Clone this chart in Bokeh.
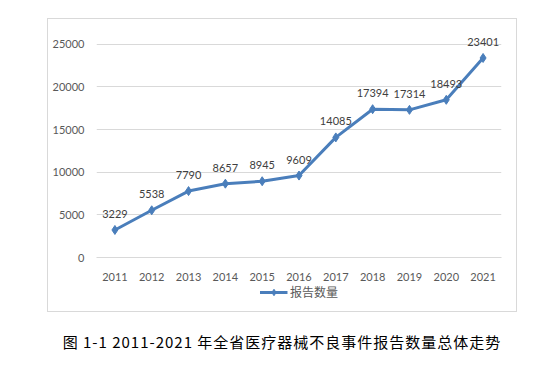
from bokeh.plotting import figure
from bokeh.layouts import column
from bokeh.models import ColumnDataSource, FixedTicker, Legend, LegendItem, Div, Range1d
from bokeh.core.properties import value
from bokeh.embed import file_html
from bokeh.resources import INLINE

years = ["2011", "2012", "2013", "2014", "2015", "2016", "2017", "2018", "2019", "2020", "2021"]
reports = [3229, 5538, 7790, 8657, 8945, 9609, 14085, 17394, 17314, 18493, 23401]
y_ticks = [0, 5000, 10000, 15000, 20000, 25000]
series_name = "报告数量"
caption = "图 1-1 2011-2021 年全省医疗器械不良事件报告数量总体走势"

LINE = "#4a7ebb"
GRID = "#d9d9d9"
TXT = "#595959"
FONT = "Lato"

src = ColumnDataSource(dict(x=years, y=reports, t=[str(v) for v in reports]))

# main chart: frame 405 x 234 px; 25000 sits 19px below the frame top
p = figure(width=468, height=264, x_range=years, y_range=(0, 27209),
           output_backend="svg", toolbar_location=None,
           min_border_left=48, min_border_right=15, min_border_top=6, min_border_bottom=24)
p.outline_line_color = None
p.background_fill_color = "white"
p.border_fill_color = "white"

p.xgrid.grid_line_color = None
p.ygrid.grid_line_color = GRID
p.ygrid.grid_line_width = 1

p.yaxis.ticker = FixedTicker(ticks=y_ticks)
p.yaxis.axis_line_color = None
p.yaxis.major_tick_line_color = None
p.yaxis.minor_tick_line_color = None
p.yaxis.major_tick_out = 0
p.yaxis.major_tick_in = 0
p.yaxis.minor_tick_out = 0
p.yaxis.major_label_standoff = 12
p.yaxis.major_label_text_font = FONT
p.yaxis.major_label_text_font_size = "11px"
p.yaxis.major_label_text_color = TXT

p.xaxis.axis_line_color = GRID
p.xaxis.major_tick_line_color = None
p.xaxis.minor_tick_line_color = None
p.xaxis.major_label_standoff = 9
p.xaxis.major_label_text_font = FONT
p.xaxis.major_label_text_font_size = "11px"
p.xaxis.major_label_text_color = TXT

p.line("x", "y", source=src, line_color=LINE, line_width=3)
p.scatter("x", "y", source=src, marker="diamond", size=9, fill_color=LINE, line_color=LINE)

p.text("x", "y", text="t", source=src, y_offset=-16, text_align="center", text_baseline="middle",
       text_font=value(FONT), text_font_size="11px", text_color="#404040")

# legend strip below the chart (same series; its range keeps the marks out of view)
lg = figure(width=468, height=28, x_range=p.x_range, y_range=Range1d(30000, 40000),
            x_axis_type=None, y_axis_type=None, output_backend="svg", toolbar_location=None,
            min_border=0)
lg.outline_line_color = None
lg.background_fill_color = "white"
lg.border_fill_color = "white"
l_line = lg.line("x", "y", source=src, line_color=LINE, line_width=3)
l_mark = lg.scatter("x", "y", source=src, marker="diamond", size=9, fill_color=LINE, line_color=LINE)
legend = Legend(items=[LegendItem(label=series_name, renderers=[l_line, l_mark])],
                location="top_center", orientation="horizontal",
                padding=0, margin=0, spacing=0, glyph_width=28, glyph_height=16, label_height=16,
                label_standoff=3, label_text_font="Noto Sans CJK SC",
                label_text_font_size="12px", label_text_color=TXT,
                background_fill_alpha=0, border_line_color=None)
lg.add_layout(legend, "center")

chart = column(p, lg, spacing=0, margin=(19, 0, 0, 48),
               styles={"outline": "1px solid #d9d9d9"})

cap = Div(text=caption, width=520, height=22, margin=(20, 0, 0, 22),
          styles={"text-align": "center", "font-family": "Noto Sans CJK SC", "font-size": "15px",
                  "letter-spacing": "1px", "color": "#000000", "line-height": "22px"})

layout = column(chart, cap)
open("out.html", "w").write(file_html(layout, INLINE))
